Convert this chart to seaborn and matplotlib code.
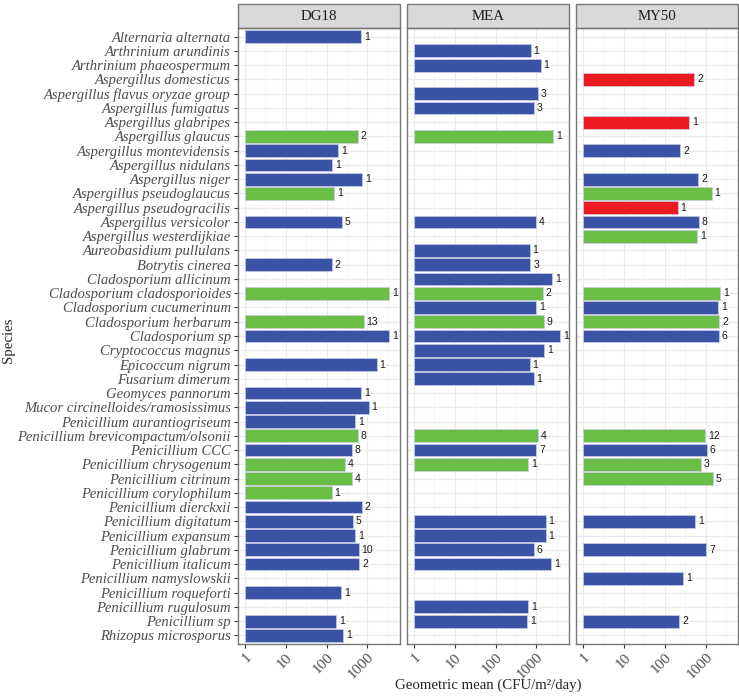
import numpy as np
import pandas as pd
import matplotlib
matplotlib.use("Agg")
import matplotlib.pyplot as plt
import seaborn as sns
from matplotlib.patches import Rectangle

species = [
    "Alternaria alternata", "Arthrinium arundinis", "Arthrinium phaeospermum",
    "Aspergillus domesticus", "Aspergillus flavus oryzae group", "Aspergillus fumigatus",
    "Aspergillus glabripes", "Aspergillus glaucus", "Aspergillus montevidensis",
    "Aspergillus nidulans", "Aspergillus niger", "Aspergillus pseudoglaucus",
    "Aspergillus pseudogracilis", "Aspergillus versicolor", "Aspergillus westerdijkiae",
    "Aureobasidium pullulans", "Botrytis cinerea", "Cladosporium allicinum",
    "Cladosporium cladosporioides", "Cladosporium cucumerinum", "Cladosporium herbarum",
    "Cladosporium sp", "Cryptococcus magnus", "Epicoccum nigrum", "Fusarium dimerum",
    "Geomyces pannorum", "Mucor circinelloides/ramosissimus", "Penicillium aurantiogriseum",
    "Penicillium brevicompactum/olsonii", "Penicillium CCC", "Penicillium chrysogenum",
    "Penicillium citrinum", "Penicillium corylophilum", "Penicillium dierckxii",
    "Penicillium digitatum", "Penicillium expansum", "Penicillium glabrum",
    "Penicillium italicum", "Penicillium namyslowskii", "Penicillium roqueforti",
    "Penicillium rugulosum", "Penicillium sp", "Rhizopus microsporus",
]

# DG18
dg18_species = [
    "Alternaria alternata", "Aspergillus glaucus", "Aspergillus montevidensis",
    "Aspergillus nidulans", "Aspergillus niger", "Aspergillus pseudoglaucus",
    "Aspergillus versicolor", "Botrytis cinerea", "Cladosporium cladosporioides",
    "Cladosporium herbarum", "Cladosporium sp", "Epicoccum nigrum", "Geomyces pannorum",
    "Mucor circinelloides/ramosissimus", "Penicillium aurantiogriseum",
    "Penicillium brevicompactum/olsonii", "Penicillium CCC", "Penicillium chrysogenum",
    "Penicillium citrinum", "Penicillium corylophilum", "Penicillium dierckxii",
    "Penicillium digitatum", "Penicillium expansum", "Penicillium glabrum",
    "Penicillium italicum", "Penicillium roqueforti", "Penicillium sp", "Rhizopus microsporus",
]
dg18_gm = [695, 577, 194, 138, 752, 152, 239, 135, 3390, 810, 3390, 1690, 695, 1070, 505,
           590, 410, 287, 410, 133, 725, 436, 500, 613, 635, 230, 170, 253]
dg18_n = [1, 2, 1, 1, 1, 1, 5, 2, 1, 13, 1, 1, 1, 1, 1, 8, 8, 4, 4, 1, 2, 5, 1, 10, 2, 1, 1, 1]
dg18_group = ["B", "G", "B", "B", "B", "G", "B", "B", "G", "G", "B", "B", "B", "B", "B",
              "G", "B", "G", "G", "G", "B", "B", "B", "B", "B", "B", "B", "B"]

# MEA
mea_species = [
    "Arthrinium arundinis", "Arthrinium phaeospermum", "Aspergillus flavus oryzae group",
    "Aspergillus fumigatus", "Aspergillus glaucus", "Aspergillus versicolor",
    "Aureobasidium pullulans", "Botrytis cinerea", "Cladosporium allicinum",
    "Cladosporium cladosporioides", "Cladosporium cucumerinum", "Cladosporium herbarum",
    "Cladosporium sp", "Cryptococcus magnus", "Epicoccum nigrum", "Fusarium dimerum",
    "Penicillium brevicompactum/olsonii", "Penicillium CCC", "Penicillium chrysogenum",
    "Penicillium digitatum", "Penicillium expansum", "Penicillium glabrum",
    "Penicillium italicum", "Penicillium rugulosum", "Penicillium sp",
]
mea_gm = [725, 1280, 1110, 860, 2550, 1000, 685, 710, 2450, 1450, 1000, 1500, 3790, 1540,
          685, 860, 1110, 1000, 635, 1690, 1690, 860, 2330, 625, 600]
mea_n = [1, 1, 3, 3, 1, 4, 1, 3, 1, 2, 1, 9, 1, 1, 1, 1, 4, 7, 1, 1, 1, 6, 1, 1, 1]
mea_group = ["B", "B", "B", "B", "G", "B", "B", "B", "B", "G", "B", "G", "B", "B",
             "B", "B", "G", "B", "G", "B", "B", "B", "B", "B", "B"]

# MY50
my50_species = [
    "Aspergillus domesticus", "Aspergillus glabripes", "Aspergillus montevidensis",
    "Aspergillus niger", "Aspergillus pseudoglaucus", "Aspergillus pseudogracilis",
    "Aspergillus versicolor", "Aspergillus westerdijkiae", "Cladosporium cladosporioides",
    "Cladosporium cucumerinum", "Cladosporium herbarum", "Cladosporium sp",
    "Penicillium brevicompactum/olsonii", "Penicillium CCC", "Penicillium chrysogenum",
    "Penicillium citrinum", "Penicillium digitatum", "Penicillium glabrum",
    "Penicillium namyslowskii", "Penicillium sp",
]
my50_gm = [525, 400, 241, 655, 1400, 204, 670, 620, 2230, 2040, 2150, 2100,
           990, 1070, 780, 1480, 550, 1030, 276, 225]
my50_n = [2, 1, 2, 2, 1, 1, 8, 1, 1, 1, 2, 6, 12, 6, 3, 5, 1, 7, 1, 2]
my50_group = ["R", "R", "B", "B", "G", "R", "B", "G", "G", "B", "G", "B",
              "G", "B", "G", "G", "B", "B", "B", "B"]

media = ["DG18", "MEA", "MY50"]
palette = {"B": "#3A53A4", "G": "#6ABD45", "R": "#ED1C24"}

frames = []
for medium, sp, gm, n, grp in zip(media,
                                  [dg18_species, mea_species, my50_species],
                                  [dg18_gm, mea_gm, my50_gm],
                                  [dg18_n, mea_n, my50_n],
                                  [dg18_group, mea_group, my50_group]):
    frames.append(pd.DataFrame({"medium": medium, "species": sp, "gm": gm, "n": n, "group": grp}))
df = pd.concat(frames, ignore_index=True)
df["log_gm"] = np.log10(df["gm"])

sns.set_style("white")
plt.rcParams["font.family"] = ["Liberation Serif", "DejaVu Serif"]

W, H = 739, 697
fig = plt.figure(figsize=(W / 100, H / 100), dpi=100)
lefts = [237.7, 406.7, 576.0]
pw = 162.3
top, bottom = 28.1, 643.9
strip_h = 23.8

for i, medium in enumerate(media):
    ax = fig.add_axes([lefts[i] / W, 1 - bottom / H, pw / W, (bottom - top) / H])
    sub = df[df["medium"] == medium]
    ax.set_axisbelow(True)
    sns.barplot(data=sub, x="log_gm", y="species", hue="group", palette=palette,
                order=species, dodge=False, width=0.9, orient="h", errorbar=None,
                saturation=1, legend=False, ax=ax, edgecolor="#c9cde8", linewidth=0.5)
    for _, r in sub.iterrows():
        ax.text(r["log_gm"] + 0.07, species.index(r["species"]), str(r["n"]),
                va="center", ha="left", fontsize=7.5, family="Liberation Sans", color="#1a1a1a")

    ax.set_xlim(-0.179, 3.80)
    ax.set_ylim(len(species) - 0.4, -0.6)
    ax.set_xticks([0, 1, 2, 3])
    ax.set_xticklabels(["1", "10", "100", "1000"], rotation=45, ha="right", va="top",
                       rotation_mode="anchor", fontsize=11, color="#4d4d4d")
    ax.set_xticks([0.5, 1.5, 2.5, 3.5], minor=True)
    ax.grid(which="major", color="#ebebeb", lw=0.9)
    ax.grid(which="minor", axis="x", color="#f4f4f4", lw=0.5)
    ax.tick_params(axis="x", which="major", length=3, width=0.8, color="#333333", pad=2, bottom=True)
    ax.tick_params(axis="x", which="minor", length=0)
    ax.set_xlabel("")
    ax.set_ylabel("")
    if i == 0:
        ax.tick_params(axis="y", length=3, width=0.8, color="#333333", pad=2, left=True,
                       labelsize=10.5, labelcolor="#4d4d4d")
        for lab in ax.get_yticklabels():
            lab.set_fontstyle("italic")
    else:
        ax.tick_params(axis="y", length=0, labelleft=False)
    for s in ax.spines.values():
        s.set_visible(True)
        s.set_color("#777777")
        s.set_linewidth(1)

    sh = strip_h / (bottom - top)
    ax.add_patch(Rectangle((0, 1), 1, sh, transform=ax.transAxes, clip_on=False,
                           facecolor="#d9d9d9", edgecolor="#777777", lw=1))
    ax.text(0.5, 1 + sh / 2, medium, transform=ax.transAxes, ha="center", va="center",
            fontsize=10.7, color="#1a1a1a")

fig.text(488 / W, 1 - 685 / H, "Geometric mean (CFU/m²/day)", ha="center", va="center",
         fontsize=10.7)
fig.text(9 / W, 1 - 340 / H, "Species", rotation=90, ha="center", va="center", fontsize=10.7)

fig.savefig("out.png", dpi=100)
